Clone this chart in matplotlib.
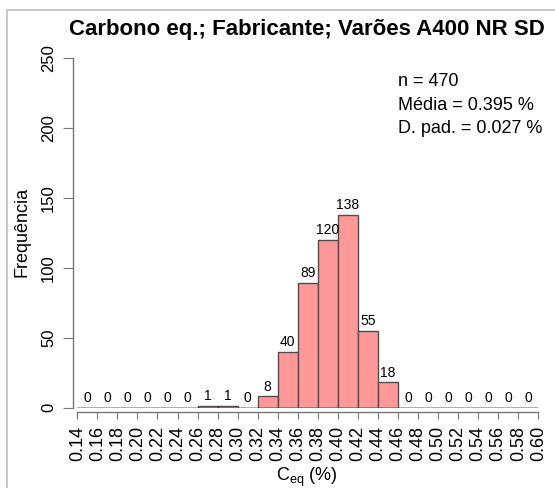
import numpy as np
import matplotlib
matplotlib.use('Agg')
import matplotlib.pyplot as plt
from matplotlib.patches import Rectangle

plt.rcParams['font.family'] = ['Liberation Sans', 'DejaVu Sans']

# histogram data (bins of 0.02 % from 0.14 to 0.60)
bin_edges = [0.14, 0.16, 0.18, 0.20, 0.22, 0.24, 0.26, 0.28, 0.30, 0.32, 0.34, 0.36,
             0.38, 0.40, 0.42, 0.44, 0.46, 0.48, 0.50, 0.52, 0.54, 0.56, 0.58, 0.60]
counts = [0, 0, 0, 0, 0, 0, 1, 1, 0, 8, 40, 89, 120, 138, 55, 18, 0, 0, 0, 0, 0, 0, 0]
yticks = [0, 50, 100, 150, 200, 250]
stats_lines = ['n = 470', 'Média = 0.395 %', 'D. pad. = 0.027 %']
title = 'Carbono eq.; Fabricante; Varões A400 NR SD'

W, H = 555, 488
fig = plt.figure(figsize=(W / 100, H / 100), dpi=100)

def fx(px):
    return px / W

def fy(py):
    return 1 - py / H

# grey frame around the picture
fig.patches.append(Rectangle((fx(7), fy(H + 10)), 1.2, fy(10) - fy(H + 10),
                             transform=fig.transFigure, fill=False,
                             edgecolor='#c8c8c8', linewidth=1.5))

x0, x1 = 77.3, 538.3
y0, y1 = 407.5, 58
ax = fig.add_axes([fx(x0), fy(y0), fx(x1) - fx(x0), fy(y1) - fy(y0)])

lefts = np.array(bin_edges[:-1])
widths = np.diff(bin_edges)
ax.bar(lefts, counts, width=widths, align='edge', color='#ff9999',
       edgecolor='#4d4d4d', linewidth=1.0)
ax.plot([bin_edges[0], bin_edges[-1]], [0, 0], color='black', lw=1.0)
for l, w, c in zip(lefts, widths, counts):
    ax.annotate(str(c), (l + w / 2, c), xytext=(0, 2), textcoords='offset points',
                ha='center', va='bottom', fontsize=10)

ax.set_xlim(bin_edges[0], bin_edges[-1])
ax.set_ylim(0, 250)
for s in ['top', 'right']:
    ax.spines[s].set_visible(False)
ax.spines['left'].set_position(('outward', 3.4))
ax.spines['bottom'].set_position(('outward', 3.4))
ax.spines['left'].set_bounds(0, 250)
ax.spines['bottom'].set_bounds(bin_edges[0], bin_edges[-1])
for s in ['left', 'bottom']:
    ax.spines[s].set_color('#777777')
    ax.spines[s].set_linewidth(1.0)

ax.set_xticks(bin_edges)
ax.set_xticklabels(['%.2f' % b for b in bin_edges], rotation=90, fontsize=13)
ax.set_yticks(yticks)
ax.set_yticklabels([str(t) for t in yticks], rotation=90, va='center', fontsize=12)
ax.tick_params(axis='x', length=5, color='#777777', pad=5)
ax.tick_params(axis='y', length=7, color='#777777', pad=5)
ax.patch.set_visible(False)

fig.text(fx(22), fy(232), 'Frequência', rotation=90, ha='center', va='center', fontsize=13)
fig.text(fx(307), fy(477), r'C$_{\mathregular{eq}}$ (%)', ha='center', va='center', fontsize=13)
fig.text(fx(307), fy(30), title, ha='center', va='center', fontsize=16, fontweight='bold')

for i, line in enumerate(stats_lines):
    fig.text(fx(398), fy(82 + 23 * i), line, ha='left', va='center', fontsize=13)

fig.savefig('out.png', dpi=100)
